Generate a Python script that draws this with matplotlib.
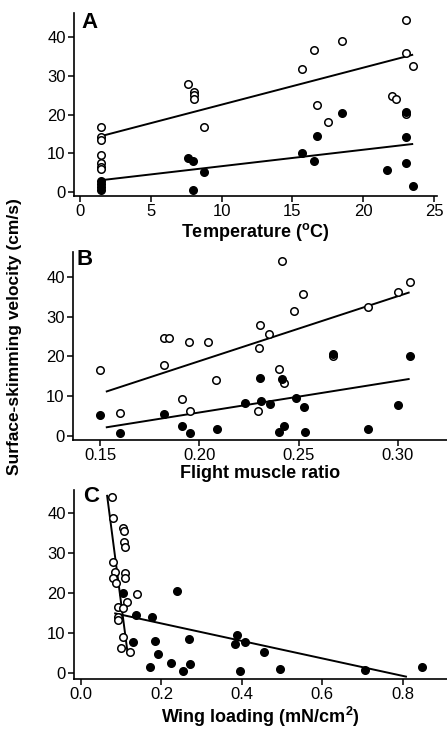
import numpy as np
import matplotlib
matplotlib.use("Agg")
import matplotlib.pyplot as plt

plt.rcParams['font.family'] = ['Liberation Sans', 'DejaVu Sans']

# panel A: temperature (C) vs velocity (cm/s)
temp_open = [1.5, 1.5, 1.5, 1.5, 1.5, 1.5, 1.5, 7.65, 8.07, 8.07, 8.07, 8.76,
             15.7, 16.5, 16.7, 17.5, 18.5, 22.0, 22.3, 23.0, 23.0, 23.0, 23.5]
vel_temp_open = [16.9, 14.3, 13.4, 9.6, 7.4, 6.5, 5.9, 28.0, 25.9, 25.0, 23.9, 16.7,
                 31.7, 36.6, 22.6, 18.1, 39.1, 24.9, 24.0, 44.3, 36.0, 20.1, 32.6]
temp_fill = [1.5, 1.5, 1.5, 1.5, 7.6, 8.0, 8.0, 8.76, 15.7, 16.5, 16.7, 18.5,
             21.7, 23.0, 23.0, 23.0, 23.5]
vel_temp_fill = [2.9, 2.2, 1.3, 0.5, 8.9, 8.0, 0.5, 5.2, 10.0, 7.9, 14.6, 20.5,
                 5.6, 20.7, 14.3, 7.6, 1.7]
fit_temp_x = [1.55, 23.45]
fit_temp_open = [14.5, 35.4]
fit_temp_fill = [3.1, 12.4]

# panel B: flight muscle ratio vs velocity
fmr_open = [0.150, 0.160, 0.182, 0.1849, 0.182, 0.1913, 0.1947, 0.1952, 0.2043, 0.2083,
            0.2294, 0.2304, 0.2302, 0.2351, 0.2403, 0.2417, 0.2425, 0.2478, 0.252,
            0.2673, 0.2848, 0.300, 0.3059]
vel_fmr_open = [16.5, 5.8, 24.6, 24.6, 17.9, 9.3, 23.5, 6.3, 23.5, 14.1,
                6.2, 27.9, 22.0, 25.6, 16.8, 44.0, 13.3, 31.3, 35.7,
                20.0, 32.5, 36.2, 38.7]
fmr_fill = [0.150, 0.160, 0.182, 0.1913, 0.1955, 0.2087, 0.223, 0.2304, 0.2312, 0.2356,
            0.2403, 0.2417, 0.2427, 0.2485, 0.2529, 0.2532, 0.2673, 0.2848, 0.3002, 0.3062]
vel_fmr_fill = [5.2, 0.7, 5.6, 2.4, 0.7, 1.8, 8.3, 14.5, 8.9, 8.0,
                1.0, 14.3, 2.6, 9.5, 7.4, 0.9, 20.5, 1.8, 7.8, 20.0]
fit_fmr_x = [0.1534, 0.3054]
fit_fmr_open = [11.2, 36.0]
fit_fmr_fill = [2.2, 14.3]

# panel C: wing loading (mN/cm2) vs velocity
wl_open = [0.076, 0.080, 0.105, 0.107, 0.108, 0.109, 0.080, 0.085, 0.080, 0.087,
           0.109, 0.109, 0.139, 0.114, 0.093, 0.105, 0.093, 0.093, 0.104, 0.099, 0.122]
vel_wl_open = [44.1, 38.7, 36.2, 35.4, 32.8, 31.6, 27.8, 25.3, 23.7, 22.4,
               24.9, 23.7, 19.75, 17.8, 16.6, 16.2, 14.1, 13.2, 9.1, 6.2, 5.3]
wl_fill = [0.105, 0.136, 0.177, 0.129, 0.171, 0.185, 0.191, 0.224, 0.238, 0.254,
           0.269, 0.272, 0.389, 0.384, 0.408, 0.396, 0.454, 0.495, 0.706, 0.847]
vel_wl_fill = [20.0, 14.5, 14.1, 7.8, 1.6, 8.1, 4.8, 2.4, 20.4, 0.5,
               8.6, 2.2, 9.4, 7.3, 7.8, 0.5, 5.3, 0.9, 0.75, 1.4]
fit_wl_open_x = [0.065, 0.116]
fit_wl_open = [44.3, 4.9]
fit_wl_fill_x = [0.085, 0.808]
fit_wl_fill = [14.9, -0.9]

W, H = 447, 732
fig = plt.figure(figsize=(W / 100, H / 100), dpi=100)


def px_axes(left, right, top, bottom):
    return fig.add_axes([left / W, 1 - bottom / H, (right - left) / W, (bottom - top) / H])


def style(ax):
    for s in ['top', 'right']:
        ax.spines[s].set_visible(False)
    for s in ['left', 'bottom']:
        ax.spines[s].set_linewidth(1.2)
    ax.tick_params(direction='out', length=4.5, width=1.1, labelsize=12, pad=1.5)
    ax.set_yticks([0, 10, 20, 30, 40])


def scatter(ax, xo, yo, xf, yf):
    ax.plot(xo, yo, 'o', ms=5.4, mfc='white', mec='black', mew=1.1, ls='none', zorder=3)
    ax.plot(xf, yf, 'o', ms=5.4, mfc='black', mec='black', mew=1.1, ls='none', zorder=3)


lab = dict(fontsize=13, fontweight='bold')

axA = px_axes(74, 437, 13, 196)
scatter(axA, temp_open, vel_temp_open, temp_fill, vel_temp_fill)
axA.plot(fit_temp_x, fit_temp_open, 'k-', lw=1.4)
axA.plot(fit_temp_x, fit_temp_fill, 'k-', lw=1.4)
axA.set_xlim(-0.42, 25.2)
axA.set_ylim(-1.0, 46.2)
axA.set_xticks([0, 5, 10, 15, 20, 25])
style(axA)
axA.set_xlabel('Temperature ($^{\\mathregular{o}}$C)', labelpad=1, **lab)

axB = px_axes(73, 447, 252, 440)
scatter(axB, fmr_open, vel_fmr_open, fmr_fill, vel_fmr_fill)
axB.plot(fit_fmr_x, fit_fmr_open, 'k-', lw=1.4)
axB.plot(fit_fmr_x, fit_fmr_fill, 'k-', lw=1.4)
axB.set_xlim(0.1364, 0.3247)
axB.set_ylim(-1.0, 46.2)
axB.set_xticks([0.15, 0.20, 0.25, 0.30])
axB.set_xticklabels(['0.15', '0.20', '0.25', '0.30'])
style(axB)
axB.set_xlabel('Flight muscle ratio', labelpad=1, **lab)

axC = px_axes(74, 447, 490, 679)
scatter(axC, wl_open, vel_wl_open, wl_fill, vel_wl_fill)
axC.plot(fit_wl_open_x, fit_wl_open, 'k-', lw=1.4)
axC.plot(fit_wl_fill_x, fit_wl_fill, 'k-', lw=1.4)
axC.set_xlim(-0.0174, 0.91)
axC.set_ylim(-1.5, 45.75)
axC.set_xticks([0.0, 0.2, 0.4, 0.6, 0.8])
axC.set_xticklabels(['0.0', '0.2', '0.4', '0.6', '0.8'])
style(axC)
axC.set_xlabel('Wing loading (mN/cm$^{\\mathregular{2}}$)', labelpad=2, **lab)

for letter, (x, y) in zip(['A', 'B', 'C'], [(90, 22), (85, 260), (91, 497)]):
    fig.text(x / W, 1 - y / H, letter, fontsize=16, fontweight='black',
             ha='center', va='center')

fig.text(15 / W, 1 - 337 / H, 'Surface-skimming velocity (cm/s)', rotation=90,
         ha='center', va='center', fontsize=12.5, fontweight='bold')

fig.savefig('out.png', dpi=100)
